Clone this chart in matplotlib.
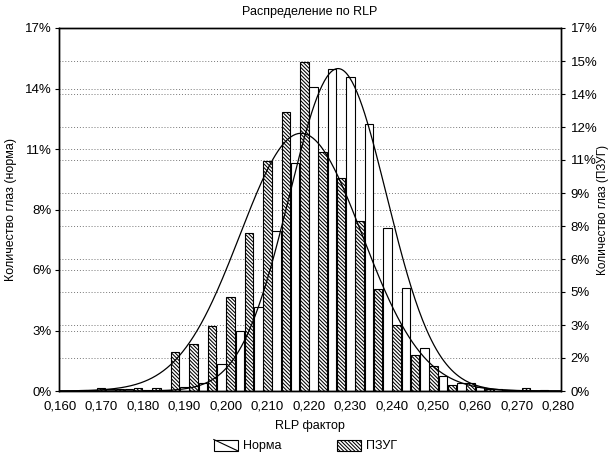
import numpy as np
import matplotlib
matplotlib.use("Agg")
import matplotlib.pyplot as plt
from matplotlib.patches import Rectangle, Patch
from matplotlib.lines import Line2D
from matplotlib.legend_handler import HandlerBase
from matplotlib.ticker import FuncFormatter, FixedLocator

plt.rcParams['font.family'] = ['Liberation Sans', 'DejaVu Sans']
plt.rcParams['hatch.linewidth'] = 0.75

# ---------------- data ----------------
bin_width = 0.12 / 27
rlp_bins = [0.1622, 0.1667, 0.1711, 0.1756, 0.1800, 0.1844, 0.1889, 0.1933, 0.1978,
            0.2022, 0.2067, 0.2111, 0.2156, 0.2200, 0.2244, 0.2289, 0.2333, 0.2378,
            0.2422, 0.2467, 0.2511, 0.2556, 0.2600, 0.2644, 0.2689, 0.2733, 0.2778]
norma_pct = [0.0, 0.05, 0.1, 0.1, 0.05, 0.05, 0.2, 0.37, 1.26, 2.8, 3.93, 7.49, 10.68,
             14.22, 15.07, 14.7, 12.5, 7.62, 4.81, 2.0, 0.7, 0.36, 0.2, 0.1, 0.05, 0.0, 0.0]
pzug_pct = [0.0, 0.05, 0.15, 0.1, 0.15, 0.15, 1.84, 2.19, 3.04, 4.39, 7.39, 10.79, 13.08,
            15.4, 11.2, 9.99, 7.96, 4.8, 3.09, 1.7, 1.19, 0.28, 0.38, 0.1, 0.05, 0.15, 0.05]
# fitted normal curves (mean, sigma, peak %)
norma_fit = (0.2270, 0.0117, 15.1)
pzug_fit = (0.2181, 0.0147, 12.07)

x_ticks = [0.160, 0.170, 0.180, 0.190, 0.200, 0.210, 0.220, 0.230, 0.240, 0.250, 0.260, 0.270, 0.280]
y_max = 17.0
left_ticks = [y_max / 6 * k for k in range(7)]
right_ticks = [y_max / 11 * k for k in range(12)]

title = "Распределение по RLP"
xlabel = "RLP фактор"
ylabel_left = "Количество глаз (норма)"
ylabel_right = "Количество глаз (ПЗУГ)"

HATCH = '\\' * 9

# ---------------- figure ----------------
fig = plt.figure(figsize=(6.11, 4.57), dpi=100)
ax = fig.add_axes([59 / 611, 1 - 391 / 457, (561 - 59) / 611, (391 - 28) / 457])
ax.set_xlim(0.1598, 0.2807)
ax.set_ylim(0, y_max)

# gridlines
for t in right_ticks[1:-1]:
    ax.axhline(t, color='#777777', lw=0.7, ls=(0, (1, 2)), zorder=0)
for t in left_ticks[1:-1]:
    ax.axhline(t, color='#777777', lw=0.7, ls=(0, (1, 2)), zorder=0)

bins = np.array(rlp_bins)
ax.bar(bins - 0.25 * bin_width, pzug_pct, width=0.45 * bin_width, facecolor='white',
       edgecolor='black', hatch=HATCH, lw=0.8, zorder=2)
ax.bar(bins + 0.25 * bin_width, norma_pct, width=0.45 * bin_width, facecolor='white',
       edgecolor='black', lw=0.8, zorder=2)

xs = np.linspace(0.1598, 0.2807, 400)
for (m, s, p) in (norma_fit, pzug_fit):
    ax.plot(xs, p * np.exp(-0.5 * ((xs - m) / s) ** 2), color='black', lw=0.9, zorder=3)

ax.xaxis.set_major_locator(FixedLocator(x_ticks))
ax.xaxis.set_major_formatter(FuncFormatter(lambda v, p: f"{v:.3f}".replace('.', ',')))
ax.yaxis.set_major_locator(FixedLocator(left_ticks))
ax.yaxis.set_major_formatter(FuncFormatter(lambda v, p: f"{round(v)}%"))
ax.tick_params(axis='both', labelsize=9.5, length=3, width=0.8, direction='out', pad=2)
ax.tick_params(axis='x', length=0, pad=7)

ax2 = ax.twinx()
ax2.set_ylim(0, y_max)
ax2.yaxis.set_major_locator(FixedLocator(right_ticks))
ax2.yaxis.set_major_formatter(FuncFormatter(lambda v, p: f"{round(v)}%"))
ax2.tick_params(axis='y', labelsize=9.5, length=3, width=0.8, pad=4)

for a in (ax, ax2):
    for sp in a.spines.values():
        sp.set_linewidth(1.0)

ax.set_title(title, fontsize=9, pad=9)
ax.set_xlabel(xlabel, fontsize=9, labelpad=5)
ax.set_ylabel(ylabel_left, fontsize=9, labelpad=6)
fig.text(603 / 611, 1 - 210 / 457, ylabel_right, rotation=90, fontsize=8.5,
         ha='center', va='center')


class DiagHandler(HandlerBase):
    def create_artists(self, legend, orig_handle, xdescent, ydescent, width, height,
                       fontsize, trans):
        r = Rectangle((-xdescent, -ydescent), width, height, facecolor='white',
                      edgecolor='black', lw=0.8, transform=trans)
        l = Line2D([-xdescent, -xdescent + width], [-ydescent + height, -ydescent],
                   color='black', lw=0.8, transform=trans)
        return [r, l]


h_norma = Patch(facecolor='white', edgecolor='black')
h_pzug = Patch(facecolor='white', edgecolor='black', hatch=HATCH, lw=0.8)
fig.legend([h_norma, h_pzug], ["Норма", "ПЗУГ"], loc='center', bbox_to_anchor=(0.5, 1 - 446 / 457),
           ncol=2, frameon=False, fontsize=9, handlelength=1.9, handleheight=1.0,
           columnspacing=4.5, handletextpad=0.4,
           handler_map={h_norma: DiagHandler()})

fig.savefig("out.png", dpi=100, facecolor='white')
